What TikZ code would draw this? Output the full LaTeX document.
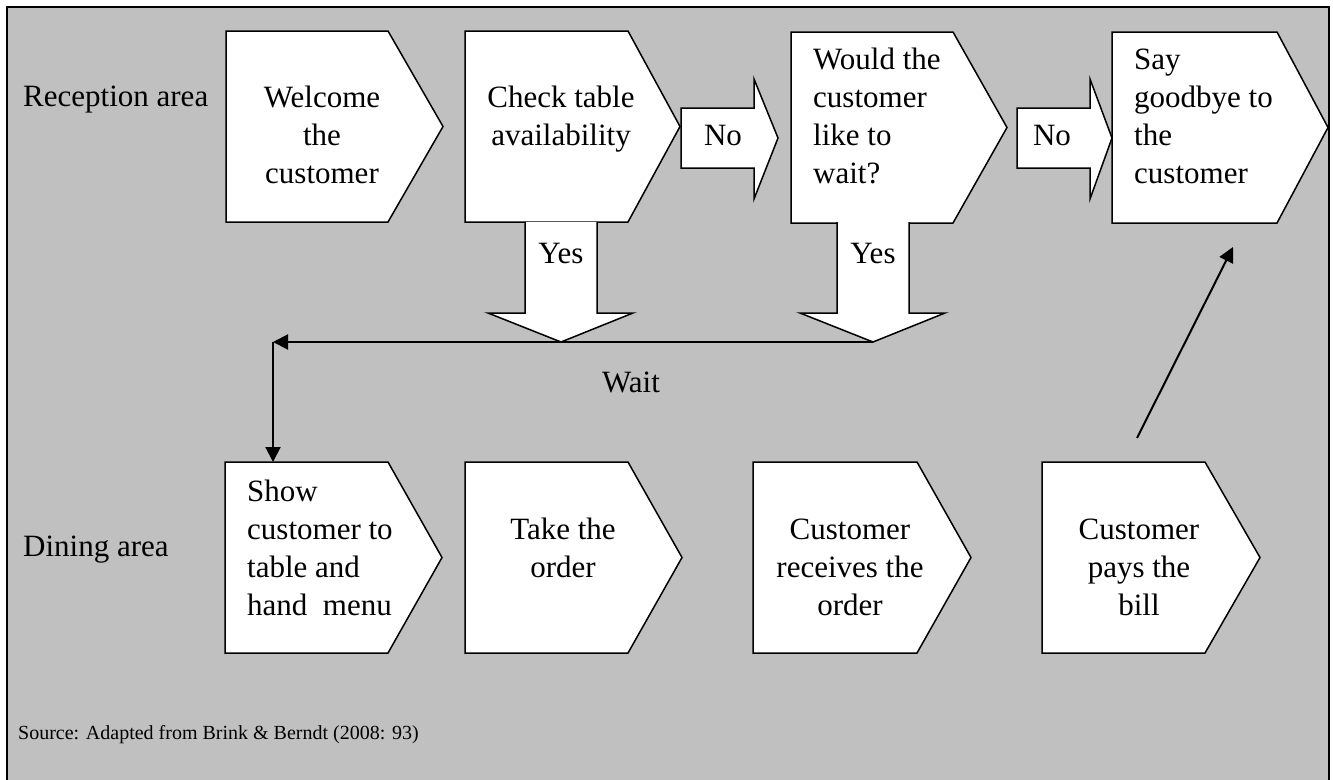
\documentclass[tikz,border=0pt]{standalone}
\usepackage{fontspec}
\setmainfont{Liberation Serif}
\usetikzlibrary{arrows.meta,positioning,calc}
\definecolor{panelgray}{RGB}{192,192,192}

\tikzset{
  procbox/.style={draw, line width=1.5pt, fill=white, line join=miter},
  fatarrow/.style={draw, line width=1.5pt, fill=white, line join=miter},
  thinarrow/.style={line width=2pt, -{Triangle[length=15pt,width=15pt]}},
  boxtext/.style={inner sep=0pt, font=\fontsize{31}{38}\selectfont},
  lanetext/.style={inner sep=0pt, anchor=west, font=\fontsize{31}{38}\selectfont}
}

\begin{document}
\begin{tikzpicture}[x=1pt, y=-1pt]
				\useasboundingbox (0,0) rectangle (1333,779);
				\clip (0,0) rectangle (1333,779);
				\fill[white] (0,0) rectangle (1333,779);
				\draw[line width=2.5pt, fill=panelgray] (7,7) rectangle (1329,800);

				% Process boxes (upper row, then lower row)
				\foreach \xl/\xs/\xt/\yt/\yb in {226/388/443/31/222, 465/628/680/31/222,
					791/953/1007/32/223, 1112/1277/1328/32/223,
					225/388/442/462/653, 465/628/682/462/653,
					753/917/971/462/653, 1042/1205/1260/462/653} {
					\draw[procbox] (\xl,\yt) -- (\xs,\yt) -- (\xt,{(\yt+\yb)/2}) -- (\xs,\yb) -- (\xl,\yb) -- cycle;
				}

				% No arrows
				\foreach \xa/\xb/\xc in {681/754/778, 1017/1090/1112} {
					\draw[fatarrow] (\xa,108) -- (\xb,108) -- (\xb,79) -- (\xc,138) -- (\xb,199) -- (\xb,168) -- (\xa,168) -- cycle;
				}

				% Yes arrows
				\foreach \xa/\xb/\xm in {525/597/561, 837/909/873} {
					\draw[fatarrow] (\xa,222) -- (\xa,313) -- (\xa-37,313) -- (\xm,342) -- (\xb+36,313) -- (\xb,313) -- (\xb,222);
				}

				% Lane labels
				\node[lanetext] (recep) at (23,100) {Reception area};
				\node[lanetext] (dining) at (23,550) {Dining area};

				% Reception area
				\node[boxtext, align=center] (welcome) at (322,135) {Welcome\\the\\customer};
				\node[boxtext, align=center] (checktab) at (561,119) {Check table\\availability};
				\node[boxtext, align=left, anchor=west] (wouldwait) at (813,116) {Would the\\customer\\like to\\wait?};
				\node[boxtext, align=left, anchor=west] (goodbye) at (1134,116) {Say\\goodbye to\\the\\customer};
				\node[boxtext] (nolabel1) at (723,136) {No};
				\node[boxtext] (nolabel2) at (1052,136) {No};
				\node[boxtext] (yeslabel1) at (561,253) {Yes};
				\node[boxtext] (yeslabel2) at (873,253) {Yes};

				% Dining area
				\node[boxtext, align=left, anchor=west] (showtable) at (247,548) {Show\\customer to\\table and\\hand\ \ menu};
				\node[boxtext, align=center] (takeorder) at (563,548) {Take the\\order};
				\node[boxtext, align=center] (receive) at (850,567) {Customer\\receives the\\order};
				\node[boxtext, align=center] (paybill) at (1139,567) {Customer\\pays the\\bill};

				% Wait connector
				\coordinate (yestip) at (873,342);
				\coordinate (waitcorner) at (273,342);
				\coordinate (showtop) at (273,462);
				\draw[thinarrow] (yestip) -- (waitcorner);
				\draw[thinarrow] (waitcorner) -- (showtop);
				\node[boxtext] (waitlabel) at (631,382) {Wait};

				% Pay the bill, then goodbye
				\coordinate (paystart) at (1137,438);
				\coordinate (byeend) at (1233,247);
				\draw[thinarrow] (paystart) -- (byeend);

				\node[inner sep=0pt, anchor=west, font=\fontsize{20}{24}\selectfont] (source) at (18,735) {Source: Adapted from Brink \& Berndt (2008: 93)};
			\end{tikzpicture}
\end{document}
